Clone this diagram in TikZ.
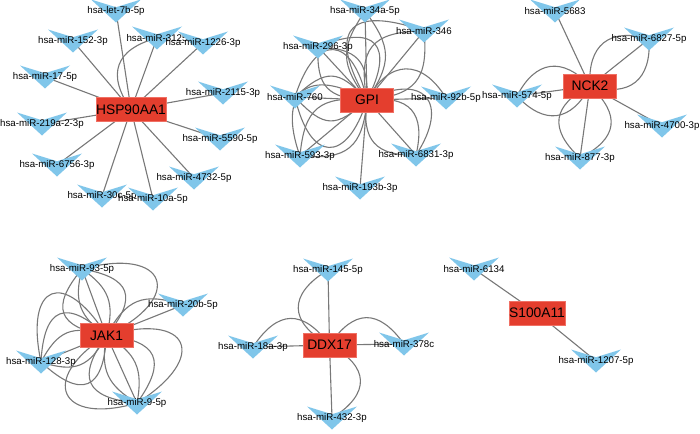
\documentclass[tikz,border=0pt]{standalone}
\usepackage{fontspec}
\setmainfont{Liberation Sans}
\pgfdeclarelayer{bg}
\pgfsetlayers{bg,main}
\definecolor{genered}{RGB}{228,62,46}
\definecolor{generim}{RGB}{240,112,100}
\definecolor{vblue}{RGB}{128,198,234}
\definecolor{edgegray}{RGB}{120,120,120}
\tikzset{
  gene/.style={rectangle, fill=genered, draw=generim, line width=0.6pt,
    minimum width=53pt, minimum height=24pt, inner sep=0pt,
    font=\fontsize{13.8}{14}\selectfont},
  mir/.style={inner sep=0pt, font=\fontsize{9.7}{10}\selectfont},
  edge/.style={draw=edgegray, line width=1.1pt},
  vfill/.style={fill=vblue},
  bl/.style 2 args={bend left=#1, looseness=#2},
  br/.style 2 args={bend right=#1, looseness=#2}
}
% name, x, y (downwards), text
\newcommand\mirnode[4]{%
  \fill[vfill] (#2-25,-#3+11.5) -- (#2,-#3+3.8) -- (#2+25,-#3+11.5) -- (#2,-#3-11.5) -- cycle;
  \node[mir] (#1) at (#2,-#3) {#4};}
\begin{document}
\begin{tikzpicture}[x=1pt,y=1pt]
\useasboundingbox (0,0) rectangle (700,-433);
% ---------- genes
\node[gene] (hsp) at (131,-109.5) {HSP90AA1};
\node[gene] (gpi) at (367,-100) {GPI};
\node[gene] (nck) at (590,-86) {NCK2};
\node[gene] (jak) at (106.5,-335.5) {JAK1};
\node[gene] (ddx) at (329.5,-345) {DDX17};
\node[gene] (s100) at (537,-313) {S100A11};
% ---------- HSP90AA1 targets
\mirnode{h1}{116}{11}{hsa-let-7b-5p}
\mirnode{h2}{73}{41}{hsa-miR-152-3p}
\mirnode{h3}{157}{38}{hsa-miR-3125}
\mirnode{h4}{203}{43}{hsa-miR-1226-3p}
\mirnode{h5}{45}{77}{hsa-miR-17-5p}
\mirnode{h6}{223}{93}{hsa-miR-2115-3p}
\mirnode{h7}{42}{124}{hsa-miR-219a-2-3p}
\mirnode{h8}{220}{139}{hsa-miR-5590-5p}
\mirnode{h9}{57}{165}{hsa-miR-6756-3p}
\mirnode{h10}{194}{178}{hsa-miR-4732-5p}
\mirnode{h11}{102}{196}{hsa-miR-30c-5p}
\mirnode{h12}{153}{199}{hsa-miR-10a-5p}
% ---------- GPI targets
\mirnode{g1}{365}{11}{hsa-miR-34a-5p}
\mirnode{g2}{424}{31}{hsa-miR-346}
\mirnode{g3}{318}{47}{hsa-miR-296-3p}
\mirnode{g4}{295}{97}{hsa-miR-760}
\mirnode{g5}{446}{98}{hsa-miR-92b-5p}
\mirnode{g6}{300}{156}{hsa-miR-593-3p}
\mirnode{g7}{416}{155}{hsa-miR-6831-3p}
\mirnode{g8}{360}{188}{hsa-miR-193b-3p}
% ---------- NCK2 targets
\mirnode{n1}{555}{11}{hsa-miR-5683}
\mirnode{n2}{649}{39}{hsa-miR-6827-5p}
\mirnode{n3}{517}{96}{hsa-miR-574-5p}
\mirnode{n4}{662}{126}{hsa-miR-4700-3p}
\mirnode{n5}{580}{158}{hsa-miR-877-3p}
% ---------- JAK1 targets
\mirnode{j1}{82}{269}{hsa-miR-93-5p}
\mirnode{j2}{183}{305}{hsa-miR-20b-5p}
\mirnode{j3}{41}{362}{hsa-miR-128-3p}
\mirnode{j4}{137}{403}{hsa-miR-9-5p}
% ---------- DDX17 targets
\mirnode{d1}{328}{270}{hsa-miR-145-5p}
\mirnode{d2}{253}{347}{hsa-miR-18a-3p}
\mirnode{d3}{404}{344}{hsa-miR-378c}
\mirnode{d4}{332}{418}{hsa-miR-432-3p}
% ---------- S100A11 targets
\mirnode{s1}{474}{269}{hsa-miR-6134}
\mirnode{s2}{596}{361}{hsa-miR-1207-5p}
% ---------- edges
\begin{pgfonlayer}{bg}
\foreach \m in {h1,h2,h3,h4,h5,h6,h7,h8,h9,h10,h11,h12}
  \draw[edge] (hsp.center) -- (\m.center);
\draw[edge] (hsp.center) to[bl={55}{1.45}] (h3.center);
% GPI
\foreach \m in {g1,g2,g3,g4,g5,g6,g7,g8}
  \draw[edge] (gpi.center) -- (\m.center);
\draw[edge] (gpi.center) to[bl={35}{1.3}] (g1.center);
\draw[edge] (gpi.center) to[br={35}{1.3}] (g1.center);
\draw[edge] (gpi.center) to[bl={50}{1.5}] (g2.center);
\draw[edge] (gpi.center) to[bl={70}{2.3}] (g2.center);
\draw[edge] (gpi.center) to[br={45}{1.4}] (g2.center);
\draw[edge] (gpi.center) to[bl={45}{1.4}] (g3.center);
\draw[edge] (gpi.center) to[br={45}{1.4}] (g3.center);
\draw[edge] (gpi.center) to[br={70}{2.2}] (g3.center);
\draw[edge] (gpi.center) to[bl={45}{1.5}] (g4.center);
\draw[edge] (gpi.center) to[br={45}{1.5}] (g4.center);
\draw[edge] (gpi.center) to[bl={75}{2.4}] (g4.center);
\draw[edge] (gpi.center) to[br={75}{2.4}] (g4.center);
\draw[edge] (gpi.center) to[bl={60}{1.5}] (g5.center);
\draw[edge] (gpi.center) to[bl={45}{1.4}] (g6.center);
\draw[edge] (gpi.center) to[br={45}{1.4}] (g6.center);
\draw[edge] (gpi.center) to[br={70}{2.0}] (g6.center);
\draw[edge] (gpi.center) to[bl={55}{1.5}] (g7.center);
\draw[edge] (gpi.center) to[br={50}{1.4}] (g7.center);
\draw[edge] (gpi.center) to[bl={75}{2.2}] (g7.center);
% NCK2
\foreach \m in {n1,n2,n3,n4,n5}
  \draw[edge] (nck.center) -- (\m.center);
\draw[edge] (nck.center) to[bl={55}{1.4}] (n2.center);
\draw[edge] (nck.center) to[br={55}{1.4}] (n2.center);
\draw[edge] (nck.center) to[bl={55}{1.4}] (n3.center);
\draw[edge] (nck.center) to[br={55}{1.4}] (n3.center);
\draw[edge] (nck.center) to[bl={55}{1.5}] (n5.center);
\draw[edge] (nck.center) to[br={55}{1.5}] (n5.center);
% JAK1
\foreach \m in {j1,j2,j3,j4}
  \draw[edge] (jak.center) -- (\m.center);
\draw[edge] (jak.center) to[bl={35}{1.2}] (j1.center);
\draw[edge] (jak.center) to[br={35}{1.2}] (j1.center);
\draw[edge] (jak.center) to[bl={60}{1.8}] (j1.center);
\draw[edge] (jak.center) to[br={60}{1.8}] (j1.center);
\draw[edge] (jak.center) to[br={85}{3.2}] (j1.center);
\draw[edge] (jak.center) to[bl={40}{1.3}] (j2.center);
\draw[edge] (jak.center) to[bl={40}{1.3}] (j3.center);
\draw[edge] (jak.center) to[br={40}{1.3}] (j3.center);
\draw[edge] (jak.center) to[bl={65}{2.0}] (j3.center);
\draw[edge] (jak.center) to[br={65}{2.0}] (j3.center);
\draw[edge] (jak.center) to[br={80}{2.9}] (j3.center);
\draw[edge] (jak.center) to[bl={35}{1.2}] (j4.center);
\draw[edge] (jak.center) to[br={35}{1.2}] (j4.center);
\draw[edge] (jak.center) to[bl={60}{1.8}] (j4.center);
\draw[edge] (jak.center) to[br={60}{1.8}] (j4.center);
\draw[edge] (jak.center) to[bl={82}{3.0}] (j4.center);
\draw[edge] (jak.center) to[br={82}{2.8}] (j4.center);
% DDX17
\foreach \m in {d1,d2,d3,d4}
  \draw[edge] (ddx.center) -- (\m.center);
\draw[edge] (ddx.center) to[bl={60}{1.6}] (d1.center);
\draw[edge] (ddx.center) to[br={55}{1.5}] (d2.center);
\draw[edge] (ddx.center) to[bl={55}{1.5}] (d3.center);
\draw[edge] (ddx.center) to[bl={60}{1.6}] (d4.center);
% S100A11
\draw[edge] (s100.center) -- (s1.center);
\draw[edge] (s100.center) -- (s2.center);
\end{pgfonlayer}
\end{tikzpicture}
\end{document}
